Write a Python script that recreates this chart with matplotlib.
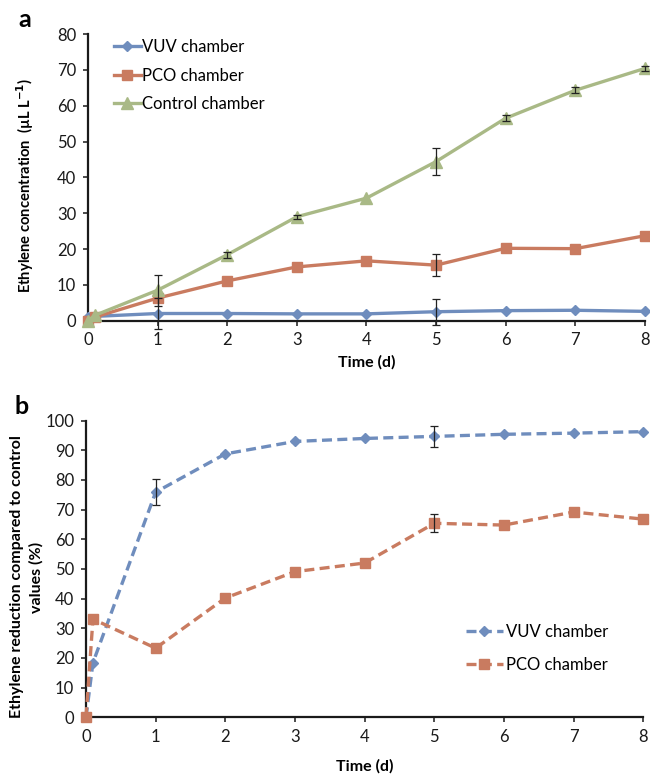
import numpy as np
import matplotlib
matplotlib.use("Agg")
import matplotlib.pyplot as plt

plt.rcParams['font.family'] = ['Lato', 'DejaVu Sans']

# ---- data ----
time_d = [0, 0.1, 1, 2, 3, 4, 5, 6, 7, 8]

vuv_conc = [1.0, 1.2, 2.0, 2.0, 1.9, 1.9, 2.5, 2.8, 2.9, 2.6]
pco_conc = [0.0, 1.0, 6.3, 11.1, 15.0, 16.7, 15.5, 20.2, 20.1, 23.7]
ctrl_conc = [0.0, 1.5, 8.5, 18.4, 29.0, 34.2, 44.4, 56.5, 64.3, 70.4]
vuv_conc_err = [0, 0, 4.2, 0, 0, 0, 3.6, 0, 0, 0]
pco_conc_err = [0, 0, 0, 0, 0, 0, 3.0, 0, 0, 0]
ctrl_conc_err = [0, 0, 4.3, 0.8, 0.6, 0, 3.7, 0.8, 0.8, 0.8]

vuv_red = [0, 18.4, 75.9, 88.8, 93.0, 94.0, 94.7, 95.4, 95.8, 96.3]
pco_red = [0, 33.1, 23.3, 40.2, 49.1, 52.0, 65.4, 64.8, 69.2, 66.8]
vuv_red_err = [0, 0, 4.4, 0, 0, 0, 3.6, 0, 0, 0]
pco_red_err = [0, 0, 0, 0, 0, 0, 3.0, 0, 0, 0]

BLUE = '#6f8dbd'
RED = '#c97b60'
GREEN = '#a9b986'

fig = plt.figure(figsize=(6.5, 7.74), dpi=100)
ax1 = fig.add_axes([0.1354, 0.5857, 0.8566, 0.3703])
ax2 = fig.add_axes([0.1323, 0.0733, 0.8574, 0.3832])


def style_axes(ax, ymax, ystep, xpad):
    ax.set_xlim(0, 8)
    ax.set_ylim(0, ymax)
    ax.set_xticks(range(0, 9))
    ax.set_yticks(np.arange(0, ymax + 1, ystep))
    for s in ['top', 'right']:
        ax.spines[s].set_visible(False)
    for s in ['left', 'bottom']:
        ax.spines[s].set_linewidth(1.6)
        ax.spines[s].set_color('#1a1a1a')
    ax.tick_params(direction='out', length=3.5, width=1.1, labelsize=12,
                   colors='#1a1a1a', pad=5)
    ax.set_xlabel('Time (d)', fontsize=11.5, fontweight='bold', labelpad=xpad)


def err_series(ax, y, err, color, marker, ms, ls, label):
    ax.plot(time_d, y, color=color, marker=marker, ms=ms, lw=2.4, ls=ls,
            label=label, clip_on=False, zorder=3)
    xe = [t for t, e in zip(time_d, err) if e > 0]
    ye = [v for v, e in zip(y, err) if e > 0]
    ee = [e for e in err if e > 0]
    ax.errorbar(xe, ye, yerr=ee, fmt='none', ecolor='#222222', elinewidth=0.9,
                capsize=3, capthick=0.9, clip_on=False, zorder=4)


# panel a
err_series(ax1, vuv_conc, vuv_conc_err, BLUE, 'D', 5.5, '-', 'VUV chamber')
err_series(ax1, pco_conc, pco_conc_err, RED, 's', 7, '-', 'PCO chamber')
err_series(ax1, ctrl_conc, ctrl_conc_err, GREEN, '^', 8, '-', 'Control chamber')
style_axes(ax1, 80, 10, 5)
ax1.set_ylabel('Ethylene concentration  (µL L$^{\\mathbf{-1}}$)', fontsize=10.6,
               fontweight='bold')
ax1.yaxis.set_label_coords(-0.093, 0.473)
ax1.legend(loc='upper left', bbox_to_anchor=(0.02, 1.035), frameon=False,
           fontsize=12, handlelength=1.6, labelspacing=0.75, handletextpad=0.1)
fig.text(0.028, 0.975, 'a', fontsize=18, fontweight='bold', va='center')

# panel b
err_series(ax2, vuv_red, vuv_red_err, BLUE, 'D', 5.5, (0, (3, 1.6)), 'VUV chamber')
err_series(ax2, pco_red, pco_red_err, RED, 's', 7, (0, (3, 1.6)), 'PCO chamber')
style_axes(ax2, 100, 10, 10)
ax2.set_ylabel('Ethylene reduction compared to control\nvalues (%)', fontsize=11.5,
               fontweight='bold', linespacing=1.45)
ax2.yaxis.set_label_coords(-0.076, 0.473)
ax2.legend(loc='upper left', bbox_to_anchor=(0.655, 0.365), frameon=False,
           fontsize=12, handlelength=2.2, labelspacing=1.0, handletextpad=0.2)
fig.text(0.022, 0.475, 'b', fontsize=18, fontweight='bold', va='center')

fig.savefig('out.png', dpi=100)
